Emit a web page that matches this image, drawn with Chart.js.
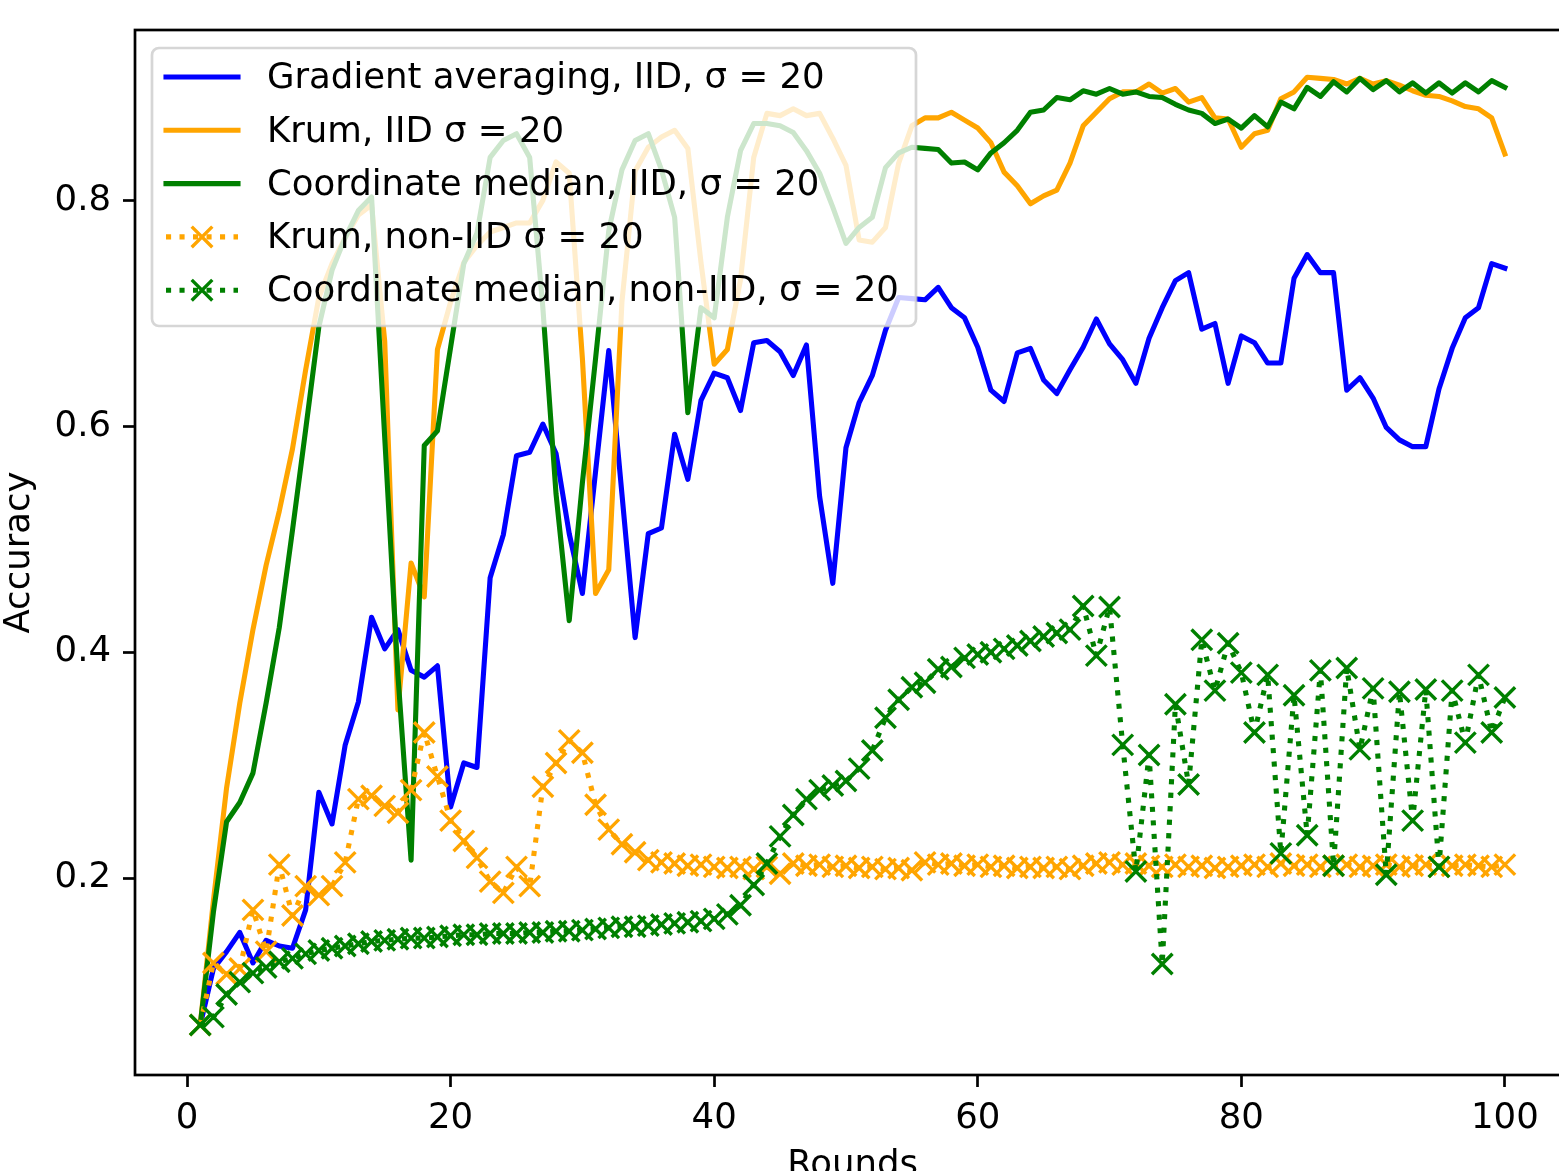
<!DOCTYPE html>
<html>
<head>
<meta charset="utf-8">
<script src="https://cdn.jsdelivr.net/npm/chart.js@4/dist/chart.umd.min.js"></script>
<style>
  html, body { margin: 0; padding: 0; background: #fff; overflow: hidden; }
  #myChart { display: block; }
</style>
</head>
<body>
<!-- a bit wider than the window: the right spine sits just off screen, like the original -->
<canvas id="myChart" width="1588" height="1200"></canvas>
<script>
// Rounds on the x axis
const rounds = [1,2,3,4,5,6,7,8,9,10,11,12,13,14,15,16,17,18,19,20,
  21,22,23,24,25,26,27,28,29,30,31,32,33,34,35,36,37,38,39,40,
  41,42,43,44,45,46,47,48,49,50,51,52,53,54,55,56,57,58,59,60,
  61,62,63,64,65,66,67,68,69,70,71,72,73,74,75,76,77,78,79,80,
  81,82,83,84,85,86,87,88,89,90,91,92,93,94,95,96,97,98,99,100];

const xTicks = [0, 20, 40, 60, 80, 100];
const yTicks = [0.2, 0.4, 0.6, 0.8];

const labels = [
  'Gradient averaging, IID, \u03c3 = 20',
  'Krum, IID \u03c3 = 20',
  'Coordinate median, IID, \u03c3 = 20',
  'Krum, non-IID \u03c3 = 20',
  'Coordinate median, non-IID, \u03c3 = 20'
];

const gradAvgIID = [0.07,0.12,0.135,0.152,0.125,0.145,0.14,0.138,0.172,0.276,
  0.248,0.318,0.356,0.431,0.403,0.42,0.384,0.378,0.388,0.263,
  0.302,0.298,0.466,0.504,0.574,0.577,0.602,0.576,0.505,0.452,
  0.56,0.667,0.54,0.413,0.505,0.51,0.593,0.553,0.623,0.647,
  0.643,0.614,0.674,0.676,0.666,0.645,0.672,0.538,0.461,0.581,
  0.621,0.645,0.685,0.714,0.713,0.712,0.723,0.705,0.696,0.67,
  0.632,0.622,0.665,0.669,0.641,0.629,0.65,0.67,0.695,0.673,
  0.659,0.638,0.678,0.705,0.729,0.736,0.686,0.691,0.638,0.68,
  0.674,0.656,0.656,0.731,0.752,0.736,0.736,0.632,0.643,0.625,
  0.599,0.588,0.582,0.582,0.633,0.669,0.696,0.705,0.744,0.74];

const krumIID = [0.07,0.18,0.28,0.355,0.42,0.477,0.525,0.58,0.65,0.714,
  0.744,0.767,0.787,0.796,0.675,0.349,0.479,0.449,0.668,0.71,
  0.745,0.76,0.772,0.776,0.78,0.78,0.80,0.834,0.824,0.66,
  0.452,0.473,0.71,0.826,0.847,0.856,0.862,0.846,0.745,0.655,
  0.668,0.73,0.838,0.877,0.875,0.881,0.875,0.877,0.855,0.831,
  0.765,0.763,0.776,0.833,0.866,0.873,0.873,0.878,0.871,0.864,
  0.851,0.825,0.813,0.797,0.804,0.809,0.833,0.866,0.878,0.89,
  0.896,0.896,0.903,0.895,0.899,0.887,0.891,0.873,0.872,0.847,
  0.859,0.862,0.89,0.896,0.909,0.908,0.907,0.903,0.908,0.903,
  0.906,0.902,0.897,0.893,0.892,0.888,0.883,0.881,0.873,0.841];

const medianIID = [0.07,0.17,0.25,0.267,0.293,0.355,0.422,0.508,0.597,0.688,
  0.738,0.767,0.791,0.803,0.59,0.38,0.216,0.583,0.596,0.67,
  0.744,0.771,0.838,0.853,0.859,0.838,0.705,0.54,0.428,0.55,
  0.66,0.773,0.827,0.853,0.859,0.827,0.785,0.612,0.705,0.696,
  0.785,0.844,0.868,0.868,0.866,0.86,0.844,0.824,0.794,0.762,
  0.776,0.785,0.829,0.842,0.847,0.846,0.845,0.833,0.834,0.827,
  0.842,0.851,0.862,0.878,0.88,0.891,0.889,0.897,0.894,0.899,
  0.894,0.896,0.892,0.891,0.885,0.88,0.877,0.868,0.872,0.864,
  0.875,0.865,0.887,0.881,0.9,0.892,0.905,0.896,0.908,0.898,
  0.906,0.896,0.904,0.895,0.904,0.895,0.904,0.896,0.906,0.9];

const krumNonIID = [0.07,0.125,0.115,0.12,0.172,0.135,0.212,0.167,0.193,0.185,
  0.193,0.214,0.27,0.273,0.264,0.258,0.278,0.329,0.29,0.251,
  0.233,0.218,0.197,0.187,0.21,0.193,0.281,0.302,0.322,0.311,
  0.265,0.243,0.23,0.223,0.216,0.214,0.213,0.211,0.212,0.21,
  0.209,0.21,0.208,0.21,0.204,0.213,0.211,0.212,0.21,0.211,
  0.209,0.21,0.208,0.209,0.207,0.214,0.212,0.213,0.211,0.212,
  0.21,0.211,0.209,0.21,0.209,0.21,0.208,0.211,0.213,0.214,
  0.212,0.213,0.211,0.21,0.212,0.21,0.211,0.209,0.21,0.211,
  0.212,0.21,0.213,0.211,0.212,0.21,0.211,0.212,0.21,0.211,
  0.212,0.21,0.211,0.212,0.21,0.211,0.212,0.211,0.21,0.212];

const medianNonIID = [0.07,0.077,0.097,0.108,0.116,0.121,0.126,0.129,0.133,0.136,
  0.138,0.14,0.142,0.144,0.145,0.146,0.147,0.147,0.148,0.149,
  0.15,0.15,0.151,0.151,0.151,0.152,0.152,0.153,0.153,0.154,
  0.155,0.156,0.157,0.157,0.158,0.159,0.16,0.161,0.162,0.164,
  0.168,0.176,0.194,0.213,0.237,0.256,0.27,0.278,0.282,0.286,
  0.297,0.313,0.342,0.358,0.369,0.373,0.385,0.387,0.395,0.398,
  0.4,0.403,0.406,0.41,0.414,0.417,0.42,0.441,0.397,0.44,
  0.318,0.206,0.309,0.124,0.354,0.283,0.411,0.366,0.408,0.382,
  0.329,0.38,0.222,0.362,0.238,0.384,0.211,0.386,0.314,0.368,
  0.203,0.365,0.251,0.367,0.21,0.366,0.32,0.38,0.329,0.36];

const seriesValues = [gradAvgIID, krumIID, medianIID, krumNonIID, medianNonIID];
const seriesColors = ['#0000ff', '#ffa500', '#008000', '#ffa500', '#008000'];
const seriesDotted = [false, false, false, true, true];

const LW = 5.1;          // line width (1.5pt)
const DOT = [5.1, 8.4];  // matplotlib ':' pattern
const MARK_R = 14.5;     // crossRot radius -> x marker ~20px wide
const MARK_W = 3.4;
const FS = 35.5;

Chart.defaults.font.family = "'DejaVu Sans', sans-serif";
Chart.defaults.font.size = FS;
Chart.defaults.color = '#000';

let datasets = seriesValues.map((vals, i) => ({
  label: labels[i],
  data: rounds.map((r, k) => ({ x: r, y: vals[k] })),
  borderColor: seriesColors[i],
  backgroundColor: seriesColors[i],
  borderWidth: LW,
  borderDash: seriesDotted[i] ? DOT : [],
  borderCapStyle: seriesDotted[i] ? 'butt' : 'square',
  borderJoinStyle: 'round',
  pointStyle: 'crossRot',
  pointRadius: seriesDotted[i] ? MARK_R : 0,
  pointBorderWidth: MARK_W,
  pointBorderColor: seriesColors[i],
  fill: false,
  tension: 0,
  order: seriesValues.length - 1 - i   // later series on top, like matplotlib
}));

// frame on all 4 sides
const frame = {
  id: 'frame',
  afterDraw(chart) {
    const { ctx, chartArea: a } = chart;
    ctx.save();
    ctx.strokeStyle = '#000';
    ctx.lineWidth = 2.7;
    ctx.strokeRect(a.left, a.top, a.right - a.left, a.bottom - a.top);
    ctx.restore();
  }
};

// matplotlib style legend inside the axes, semi transparent
const mplLegend = {
  id: 'mplLegend',
  afterDraw(chart) {
    const { ctx, chartArea: a } = chart;
    const x0 = a.left + 17, y0 = a.top + 18, w = 764, h = 278, r = 7;
    ctx.save();
    ctx.beginPath();
    ctx.moveTo(x0 + r, y0);
    ctx.arcTo(x0 + w, y0, x0 + w, y0 + h, r);
    ctx.arcTo(x0 + w, y0 + h, x0, y0 + h, r);
    ctx.arcTo(x0, y0 + h, x0, y0, r);
    ctx.arcTo(x0, y0, x0 + w, y0, r);
    ctx.closePath();
    ctx.fillStyle = 'rgba(255,255,255,0.8)';
    ctx.fill();
    ctx.strokeStyle = 'rgba(204,204,204,0.8)';
    ctx.lineWidth = 2.7;
    ctx.stroke();

    ctx.font = FS + "px 'DejaVu Sans', sans-serif";
    ctx.textBaseline = 'middle';
    ctx.textAlign = 'left';
    chart.data.datasets.forEach((ds, i) => {
      const y = y0 + 29 + i * 53.3;
      const hx0 = x0 + 14, hx1 = x0 + 86, cx = (hx0 + hx1) / 2;
      ctx.strokeStyle = ds.borderColor;
      ctx.lineWidth = LW;
      ctx.lineCap = seriesDotted[i] ? 'butt' : 'square';
      ctx.setLineDash(seriesDotted[i] ? DOT : []);
      ctx.beginPath();
      ctx.moveTo(hx0, y);
      ctx.lineTo(hx1, y);
      ctx.stroke();
      ctx.setLineDash([]);
      if (seriesDotted[i]) {
        const d = 10.3;
        ctx.lineWidth = MARK_W;
        ctx.beginPath();
        ctx.moveTo(cx - d, y - d); ctx.lineTo(cx + d, y + d);
        ctx.moveTo(cx - d, y + d); ctx.lineTo(cx + d, y - d);
        ctx.stroke();
      }
      ctx.fillStyle = '#000';
      ctx.fillText(ds.label, x0 + 115, y + 2);
    });
    ctx.restore();
  }
};

const tickGrid = {
  display: true,
  drawOnChartArea: false,
  drawTicks: true,
  tickLength: 12,
  tickWidth: 2.7,
  tickColor: '#000'
};

var context = document.getElementById('myChart').getContext('2d');
// note: chart.js keeps ~18px min padding for the x markers, so right padding is 0 here
var myChart = new Chart(context, {
  type: 'line',
  data: { datasets: datasets },
  options: {
    responsive: false,
    animation: false,
    devicePixelRatio: 1,
    events: [],
    layout: { padding: { top: 30, right: 0, left: 0, bottom: 0 } },
    plugins: {
      legend: { display: false },
      tooltip: { enabled: false }
    },
    scales: {
      x: {
        type: 'linear',
        min: -3.95,
        max: 104.95,
        afterBuildTicks: s => { s.ticks = xTicks.map(v => ({ value: v })); },
        afterFit: s => { s.height = 125; s.paddingLeft = 0; s.paddingRight = 0; },
        ticks: { autoSkip: false, maxRotation: 0, padding: 10, callback: v => String(v) },
        grid: tickGrid,
        border: { display: false },
        title: { display: true, text: 'Rounds', padding: { top: 0, bottom: 13 } }
      },
      y: {
        type: 'linear',
        min: 0.0258,
        max: 0.9508,
        afterBuildTicks: s => { s.ticks = yTicks.map(v => ({ value: v })); },
        afterFit: s => { s.width = 135; s.paddingTop = 0; s.paddingBottom = 0; },
        ticks: { autoSkip: false, padding: 12, callback: v => v.toFixed(1) },
        grid: tickGrid,
        border: { display: false },
        title: { display: true, text: 'Accuracy', font: { lineHeight: 1.1 }, padding: { top: 0, bottom: 0 } }
      }
    }
  },
  plugins: [frame, mplLegend]
});
</script>
</body>
</html>
